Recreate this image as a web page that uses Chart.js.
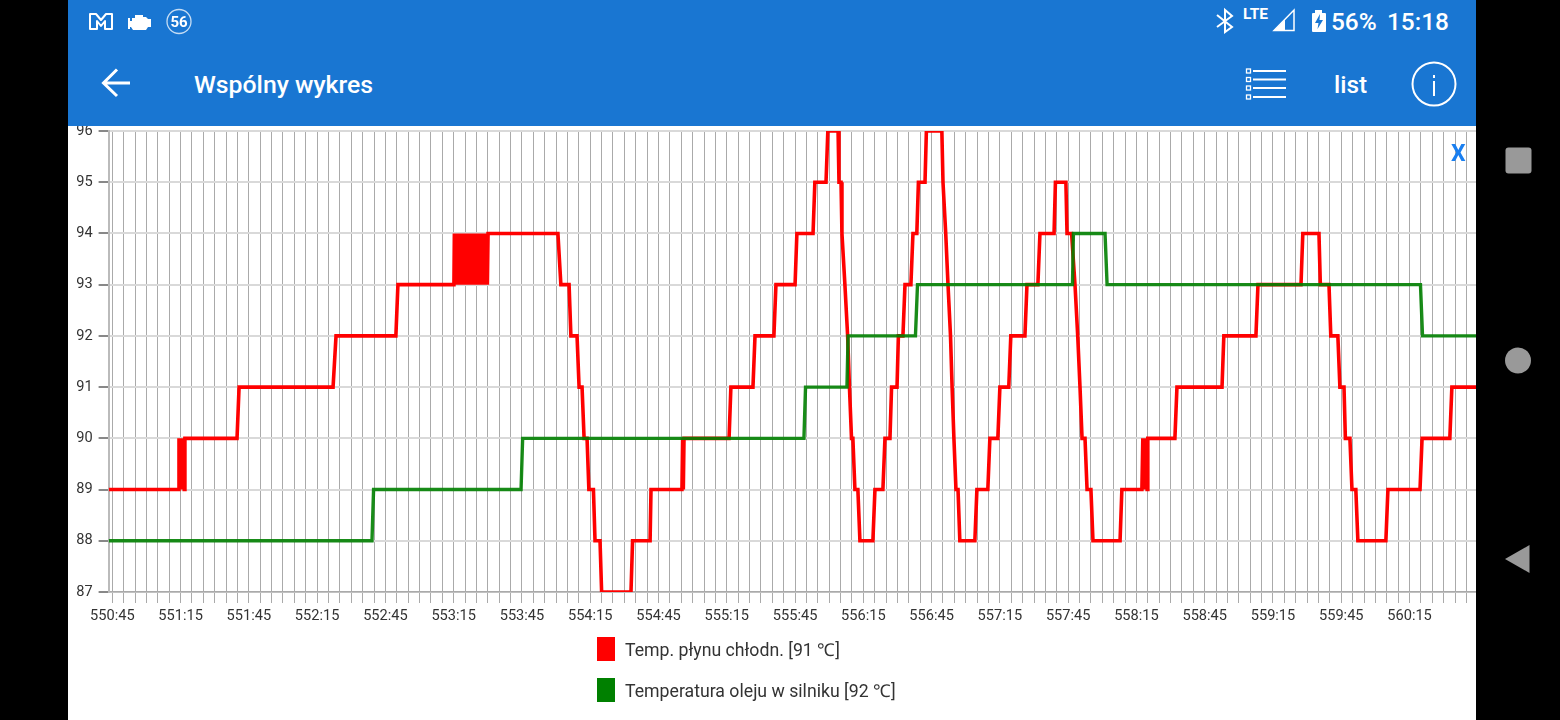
<!DOCTYPE html>
<html lang="pl">
<head>
<meta charset="utf-8">
<title>Wspólny wykres</title>
<script src="https://cdn.jsdelivr.net/npm/chart.js@4"></script>
<style>
    html, body { margin: 0; width: 1560px; height: 720px; overflow: hidden; background: #000; font-family: Roboto, sans-serif; }
    #screen { position: absolute; left: 68px; top: 0; width: 1408px; height: 720px; background: #fff; overflow: hidden; }
    #header { position: absolute; left: 0; top: 0; width: 1408px; height: 126px; background: #1976d2; z-index: 2; }
    #chart { position: absolute; left: 0; top: 126px; }
    .txt { position: absolute; color: #fff; white-space: nowrap; line-height: 1; }
    #legend { position: absolute; left: 597px; top: 637px; z-index: 3; }
    .legend-row { position: absolute; left: 0; width: 500px; height: 24px; color: #333; font-size: 17.7px; line-height: 26px; white-space: nowrap; }
    .legend-box { position: absolute; left: 0; top: 0; width: 18px; height: 24px; }
    .legend-row span { position: absolute; left: 28px; top: 0; }
    #closeX { position: absolute; left: 1383px; top: 142px; color: #1a7ff0; font-weight: 700; font-size: 23px; line-height: 1; z-index: 3; }
    svg { position: absolute; left: 0; top: 0; z-index: 3; }
</style>
</head>
<body>
<div id="screen">
    <div id="header">
        <div class="txt" style="left:126px;top:73px;font-size:24.8px;font-weight:500">Wspólny wykres</div>
        <div class="txt" style="left:1266px;top:73px;font-size:24.4px;font-weight:500">list</div>
        <div class="txt" style="left:1263px;top:10px;font-size:24.4px;font-weight:500">56%</div>
        <div class="txt" style="left:1319px;top:10px;font-size:24.4px;font-weight:500">15:18</div>
        <div class="txt" style="left:1175px;top:7px;font-size:15.5px;font-weight:700">LTE</div>
    </div>
    <canvas id="chart" width="1408" height="594"></canvas>
    <div id="closeX">X</div>
</div>
<div id="legend"></div>

<svg width="1560" height="720" viewBox="0 0 1560 720" fill="none">
    <!-- status bar left -->
    <path d="M90 14 L96 14 L101 20 L106 14 L112 14 L112 29 L105 29 L105 21 L101 26 L97 21 L97 29 L90 29 Z" stroke="#fff" stroke-width="2" stroke-linejoin="round"/>
    <path d="M128 18 h2 v3 h2 v-3 h3 v-3 h8 v2 h3 l2 2 h3 v8 h-3 l-2 3 h-13 l-2 -3 h-1 v2 h-2 Z" fill="#fff"/>
    <circle cx="179" cy="21.5" r="12" stroke="#fff" stroke-width="1.3" opacity="0.75"/>
    <text x="179" y="27" fill="#fff" font-family="Roboto" font-size="15" font-weight="700" text-anchor="middle">56</text>
    <!-- status bar right -->
    <path d="M1217 15 L1232 27 L1225 32 L1225 10 L1232 16 L1217 27" stroke="#fff" stroke-width="2"/>
    <path d="M1294 10 V30.500 H1274 Z" stroke="#fff" stroke-width="1.500"/>
    <path d="M1285 19.500 V30.500 H1274 Z" fill="#fff"/>
    <path d="M1312 13 h3 v-3 h7 v3 h3 a1 1 0 0 1 1 1 v17 a1 1 0 0 1 -1 1 h-12 a1 1 0 0 1 -1 -1 v-17 a1 1 0 0 1 1 -1 Z" fill="#fff"/>
    <path d="M1320 14 L1315 23 H1318.500 L1317.500 29 L1323 20 H1319.500 Z" fill="#1976d2"/>
    <!-- app bar -->
    <path d="M130 83 H105 M117 69.500 L103.500 83 L117 96" stroke="#fff" stroke-width="3"/>
    <g stroke="#fff" stroke-width="1.300">
        <rect x="1246.500" y="69" width="4" height="4"/>
        <rect x="1246.500" y="77.500" width="4" height="4"/>
        <rect x="1246.500" y="86" width="4" height="4"/>
        <rect x="1246.500" y="95" width="4" height="4"/>
    </g>
    <path d="M1253 71 H1286 M1253 79.500 H1286 M1253 88 H1286 M1253 97 H1286" stroke="#fff" stroke-width="1.800"/>
    <circle cx="1434" cy="84" r="21.500" stroke="#fff" stroke-width="2"/>
    <path d="M1434 81 V96 M1434 75 V78" stroke="#fff" stroke-width="2"/>
    <!-- navigation bar -->
    <rect x="1505.500" y="147.500" width="26" height="26" rx="3" fill="#999"/>
    <circle cx="1518" cy="360.500" r="13" fill="#999"/>
    <path d="M1529.500 545 V573 L1505 559 Z" fill="#999"/>
</svg>

<script>
// x values are seconds after 550:45
const xTickLabels = ['550:45', '551:15', '551:45', '552:15', '552:45', '553:15', '553:45', '554:15', '554:45', '555:15',
    '555:45', '556:15', '556:45', '557:15', '557:45', '558:15', '558:45', '559:15', '559:45', '560:15'];
const yTicks = [87, 88, 89, 90, 91, 92, 93, 94, 95, 96];

const seriesNames = ['Temp. płynu chłodn. [91 ℃]', 'Temperatura oleju w silniku [92 ℃]'];

const coolantTimes = [
    -1.6, 28.9, 29.3, 29.8, 30.2, 30.7, 31.1, 31.6, 31.9, 54.8,
    55.7, 97.0,
    98.3, 124.6,
    125.5, 150.1,
    150.3, 150.8, 151.3, 151.8, 152.3, 152.8, 153.3, 153.8, 154.3, 154.8,
    155.3, 155.8, 156.3, 156.8, 157.3, 157.8, 158.3, 158.8, 159.3, 159.8,
    160.3, 160.8, 161.3, 161.8, 162.3, 162.8, 163.3, 163.8, 164.3, 164.8, 165.1,
    195.8,
    197.1, 200.7,
    201.5, 204.2,
    205.1, 206.4,
    207.3, 208.6,
    209.4, 211.4,
    212.1, 214.3,
    215.0, 227.9,
    228.6, 236.3,
    236.7, 250.3,
    250.6, 250.9, 251.2, 271.0,
    271.8, 281.5,
    282.4, 290.7,
    291.6, 300.0,
    300.8, 307.9,
    308.7, 313.6,
    314.4, 318.9,
    319.3, 320.2,
    320.6, 321.9, 323.1, 323.9, 324.8, 325.4,
    326.3, 327.6,
    328.5, 334.2,
    335.1, 338.6,
    339.5, 341.7,
    342.4, 344.8,
    345.4, 347.4,
    348.3, 350.9,
    351.8, 353.5,
    354.2, 357.1,
    357.7, 364.5,
    365.0, 366.2, 367.2, 368.3, 369.0, 369.8,
    370.7, 371.6,
    372.4, 379.0,
    379.9, 384.7,
    385.6, 389.1,
    390.0, 393.9,
    394.8, 401.0,
    401.9, 406.7,
    407.6, 413.8,
    414.4, 419.0,
    419.5, 421.5,
    423.0, 424.2, 425.2, 426.1, 427.4,
    428.3, 430.0,
    430.9, 442.8,
    443.6, 452.4,
    452.8, 453.2, 453.6, 454.0, 454.4, 454.7, 455.0, 466.9,
    467.8, 487.6,
    488.4, 502.5,
    503.4, 522.3,
    523.1, 530.2,
    530.8, 534.6,
    535.4, 538.5,
    539.4, 541.2,
    541.8, 543.8,
    544.7, 546.4,
    547.3, 559.6,
    560.5, 574.6,
    575.5, 587.7,
    588.6, 599.2
];
const coolantValues = [
    89, 89, 90, 89, 90, 89, 90, 89, 90, 90,
    91, 91,
    92, 92,
    93, 93,
    94, 93, 94, 93, 94, 93, 94, 93, 94, 93,
    94, 93, 94, 93, 94, 93, 94, 93, 94, 93,
    94, 93, 94, 93, 94, 93, 94, 93, 94, 93, 94,
    94,
    93, 93,
    92, 92,
    91, 91,
    90, 90,
    89, 89,
    88, 88,
    87, 87,
    88, 88,
    89, 89,
    90, 89, 90, 90,
    91, 91,
    92, 92,
    93, 93,
    94, 94,
    95, 95,
    96, 96,
    95, 95,
    94, 93, 92, 91, 90, 90,
    89, 89,
    88, 88,
    89, 89,
    90, 90,
    91, 91,
    92, 92,
    93, 93,
    94, 94,
    95, 95,
    96, 96,
    95, 94, 93, 92, 91, 90,
    89, 89,
    88, 88,
    89, 89,
    90, 90,
    91, 91,
    92, 92,
    93, 93,
    94, 94,
    95, 95,
    94, 94,
    93, 92, 91, 90, 90,
    89, 89,
    88, 88,
    89, 89,
    90, 89, 90, 89, 90, 89, 90, 90,
    91, 91,
    92, 92,
    93, 93,
    94, 94,
    93, 93,
    92, 92,
    91, 91,
    90, 90,
    89, 89,
    88, 88,
    89, 89,
    90, 90,
    91, 91
];

const oilTimes = [-1.6, 114.1, 114.8, 179.6, 180.3, 303.9, 304.6, 322.8, 323.3, 352.9, 353.8, 421.9, 422.3, 436.2, 437.1, 574.8, 575.7, 599.2];
const oilValues = [88, 88, 89, 89, 90, 90, 91, 91, 92, 92, 93, 93, 94, 94, 93, 93, 92, 92];

const seriesColors = ['#ff0000', '#008000'];

function toPoints(times, values) {
    return times.map(function(t, i) {
        return { x: t, y: values[i] };
    });
}

const ctx = document.getElementById('chart').getContext('2d');
new Chart(ctx, {
    type: 'line',
    data: {
        datasets: [
            {
                label: seriesNames[0],
                data: toPoints(coolantTimes, coolantValues),
                borderColor: seriesColors[0],
                borderWidth: 3.6,
                pointRadius: 0,
                tension: 0,
                clip: 0,
                order: 1
            },
            {
                label: seriesNames[1],
                data: toPoints(oilTimes, oilValues),
                borderColor: 'rgba(0, 128, 0, 0.9)',
                borderWidth: 3.4,
                pointRadius: 0,
                tension: 0,
                clip: 0,
                order: 0
            }
        ]
    },
    options: {
        responsive: false,
        animation: false,
        layout: { padding: { top: 5, bottom: 88, left: 0, right: 0 } },
        scales: {
            x: {
                type: 'linear',
                min: -1.63,
                max: 599.2,
                afterBuildTicks: function(scale) {
                    const ticks = [];
                    for (let t = 0; t <= 595; t += 5) ticks.push({ value: t });
                    scale.ticks = ticks;
                },
                afterFit: function(scale) { scale.height = 40; },
                grid: { color: '#aaaaaa', lineWidth: 1, tickColor: '#aaaaaa', tickLength: 11, tickWidth: 1 },
                border: { color: '#aaaaaa', width: 1.5 },
                ticks: {
                    autoSkip: false,
                    maxRotation: 0,
                    minRotation: 0,
                    padding: 5,
                    color: '#333333',
                    font: { family: 'Roboto', size: 14.6 },
                    callback: function(value) {
                        return value % 30 === 0 ? xTickLabels[value / 30] : '';
                    }
                }
            },
            y: {
                min: yTicks[0],
                max: yTicks[yTicks.length - 1],
                afterFit: function(scale) {
                    scale.width = 40.6;
                    // the 96 label may run under the app bar, keep the plot top where it is
                    scale.paddingTop = 0;
                    scale.paddingBottom = 0;
                },
                grid: { color: '#d9d9d9', lineWidth: 2, tickColor: '#888888', tickLength: 10, tickWidth: 2 },
                border: { color: '#bbbbbb', width: 2 },
                ticks: {
                    stepSize: 1,
                    padding: 6,
                    color: '#333333',
                    font: { family: 'Roboto', size: 14.6 }
                }
            }
        },
        plugins: {
            legend: { display: false },
            tooltip: { enabled: false }
        }
    }
});

// legend is two stacked rows under the chart
const legendEl = document.getElementById('legend');
seriesNames.forEach(function(name, i) {
    const row = document.createElement('div');
    row.className = 'legend-row';
    row.style.top = (i * 41) + 'px';
    row.innerHTML = '<div class="legend-box" style="background:' + seriesColors[i] + '"></div><span>' + name + '</span>';
    legendEl.appendChild(row);
});
</script>
</body>
</html>
